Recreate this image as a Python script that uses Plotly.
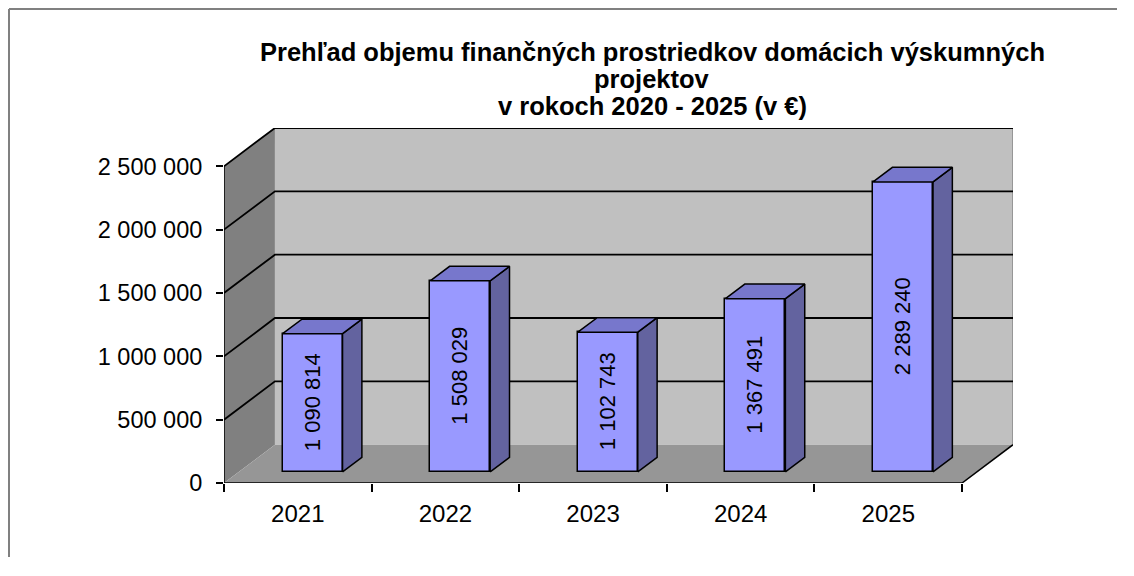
import plotly.graph_objects as go

years = ["2021", "2022", "2023", "2024", "2025"]
amounts = [1090814, 1508029, 1102743, 1367491, 2289240]
amount_labels = ["1 090 814", "1 508 029", "1 102 743", "1 367 491", "2 289 240"]
y_ticks = [0, 500000, 1000000, 1500000, 2000000, 2500000]
y_tick_labels = ["0", "500 000", "1 000 000", "1 500 000", "2 000 000", "2 500 000"]
title_lines = ["Prehľad objemu finančných prostriedkov domácich výskumných",
               "projektov",
               "v rokoch 2020 - 2025 (v €)"]

# fake 3d: depth of the box in axis units
DX = 0.345
DY = 302400
TOP = y_ticks[-1]
N = len(years)
x0, x1 = -0.5, N - 0.5

# bar placement inside the depth
F0 = 0.29       # front face of bars, fraction of depth
FD = 0.38       # bar depth, fraction of depth
W = 0.406

FONT = "Liberation Sans, Arial, sans-serif"

# figure kept a bit smaller than the window so the page doesn't scroll
FW, FH = 1110, 550
ML, MT, MR, MB = 216, 120, 105, 75
PW = FW - ML - MR
PH = FH - MT - MB

shapes = []


def poly(pts):
    return "M " + " L ".join(f"{x},{y}" for x, y in pts) + " Z"


# left wall
shapes.append(dict(type="path", xref="x", yref="y", layer="below",
                   path=poly([(x0, 0), (x0 + DX, DY), (x0 + DX, TOP + DY), (x0, TOP)]),
                   fillcolor="#808080", line=dict(width=0)))
# back wall
shapes.append(dict(type="path", xref="x", yref="y", layer="below",
                   path=poly([(x0 + DX, DY), (x1 + DX, DY), (x1 + DX, TOP + DY), (x0 + DX, TOP + DY)]),
                   fillcolor="#c0c0c0", line=dict(width=0)))
shapes.append(dict(type="line", xref="x", yref="y", layer="below",
                   x0=x1 + DX, y0=DY, x1=x1 + DX, y1=TOP + DY,
                   line=dict(color="#888888", width=1.5)))
# floor
shapes.append(dict(type="path", xref="x", yref="y", layer="below",
                   path=poly([(x0, 0), (x1, 0), (x1 + DX, DY), (x0 + DX, DY)]),
                   fillcolor="#969696", line=dict(width=0)))
shapes.append(dict(type="line", xref="x", yref="y", layer="below",
                   x0=x1, y0=0, x1=x1 + DX, y1=DY, line=dict(color="black", width=1.5)))

# gridlines on side + back wall
for v in y_ticks[1:]:
    shapes.append(dict(type="path", xref="x", yref="y", layer="below",
                       path=f"M {x0},{v} L {x0 + DX},{v + DY} L {x1 + DX},{v + DY}",
                       line=dict(color="black", width=1.8)))

# axis lines
shapes.append(dict(type="line", xref="x", yref="y", x0=x0, y0=0, x1=x0, y1=TOP,
                   line=dict(color="black", width=1.5)))
shapes.append(dict(type="line", xref="x", yref="y", x0=x0, y0=0, x1=x1, y1=0,
                   line=dict(color="black", width=1.5)))

# outer chart border: only its top and left edges are in the picture
bl = (1 - ML) / PW
bt = (MT + PH - 1) / PH
shapes.append(dict(type="line", xref="paper", yref="paper", layer="below",
                   x0=bl, y0=-(MB - 1) / PH, x1=bl, y1=bt,
                   line=dict(color="#808080", width=2)))
shapes.append(dict(type="line", xref="paper", yref="paper", layer="below",
                   x0=bl, y0=bt, x1=(FW - ML - 1) / PW, y1=bt,
                   line=dict(color="#808080", width=2)))

bx = [i + F0 * DX for i in range(N)]
base = F0 * DY

fig = go.Figure()
fig.add_trace(go.Bar(
    x=bx, y=amounts, base=[base] * N, width=W,
    marker=dict(color="#9999ff", line=dict(color="black", width=1.5)),
    text=amount_labels, textposition="inside", textangle=-90,
    insidetextanchor="middle",
    textfont=dict(family=FONT, size=22, color="black"),
    hoverinfo="skip", showlegend=False,
))

for xc, v in zip(bx, amounts):
    xl, xr = xc - W / 2, xc + W / 2
    ddx, ddy = FD * DX, FD * DY
    side = [(xr, base), (xr + ddx, base + ddy), (xr + ddx, base + ddy + v), (xr, base + v), (xr, base)]
    top = [(xl, base + v), (xr, base + v), (xr + ddx, base + v + ddy), (xl + ddx, base + v + ddy), (xl, base + v)]
    for pts, col in ((side, "#63639f"), (top, "#7777cc")):
        fig.add_trace(go.Scatter(
            x=[p[0] for p in pts], y=[p[1] for p in pts],
            fill="toself", fillcolor=col, mode="lines",
            line=dict(color="black", width=1.5),
            hoverinfo="skip", showlegend=False,
        ))

# title, one annotation per line to keep the tight line spacing
annotations = []
for k, line in enumerate(title_lines):
    py_ = 44 + 27 * k
    annotations.append(dict(
        text="<b>" + line + "</b>", xref="paper", yref="paper",
        x=(644 - ML) / PW, y=(MT + PH - py_) / PH,
        xanchor="center", yanchor="middle", showarrow=False,
        font=dict(family=FONT, size=25.5, color="black"),
    ))

fig.update_layout(
    width=FW, height=FH,
    margin=dict(l=ML, r=MR, t=MT, b=MB),
    paper_bgcolor="white", plot_bgcolor="rgba(0,0,0,0)",
    font=dict(family=FONT, size=23.5, color="black"),
    shapes=shapes, annotations=annotations,
    bargap=0,
)
fig.update_xaxes(
    range=[x0, x1 + DX], tickvals=list(range(N)), ticktext=years,
    ticks="", showgrid=False, zeroline=False, showline=False,
    ticklabelstandoff=14, tickfont=dict(size=24),
    minor=dict(tickvals=[i - 0.5 for i in range(N + 1)], ticks="outside",
               ticklen=8, tickcolor="black", tickwidth=1.5, showgrid=False),
)
fig.update_yaxes(
    range=[0, TOP + DY], tickvals=y_ticks, ticktext=y_tick_labels,
    ticks="outside", ticklen=7, tickcolor="black", tickwidth=1.5,
    showgrid=False, zeroline=False, showline=False,
    ticklabelstandoff=9,
)

fig.write_html("out.html")
